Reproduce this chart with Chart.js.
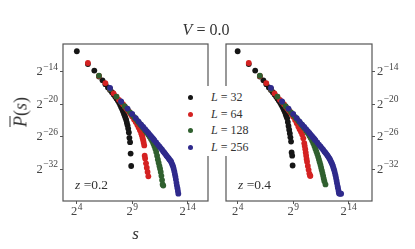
<!DOCTYPE html>
<html>
<head>
<meta charset="utf-8">
<script src="https://cdn.jsdelivr.net/npm/chart.js@4.4.1/dist/chart.umd.min.js"></script>
<style>
  body { margin: 0; background: #fff; }
  #wrap { position: relative; width: 415px; height: 249px; overflow: hidden; font-family: 'Liberation Serif', serif; color: #333; }
  #wrap canvas { position: absolute; top: 0; }
  #title { position: absolute; left: 0; width: 412px; top: 20px; text-align: center; font-size: 16px; line-height: 20px; }
  #ylabel { position: absolute; left: 21px; top: 112px; transform: translate(-50%, -50%) rotate(-90deg); font-size: 18px; white-space: nowrap; }
  #ylabel .bar { text-decoration: overline; }
  #legend { position: absolute; left: 181px; top: 86px; width: 72px; height: 70px; background: #fff; }
  .item { position: absolute; left: 0; height: 17px; font-size: 12px; line-height: 17px; white-space: nowrap; }
  .dot { position: absolute; left: 7px; top: 6px; width: 5px; height: 5px; border-radius: 50%; }
  .lab { position: absolute; left: 30px; top: 0; }
</style>
</head>
<body>
<div id="wrap">
  <canvas id="left" width="212" height="249" style="left:0"></canvas>
  <canvas id="right" width="203" height="249" style="left:212px"></canvas>
  <div id="title"><i>V</i> = 0.0</div>
  <div id="ylabel"><i class="bar">P</i>(<i>s</i>)</div>
  <div id="legend"></div>
</div>
<script>
// exponents: s = 2^x, P(s) = 2^y
const sizes = [32, 64, 128, 256];
const colors = ['#161616', '#d42222', '#30602f', '#2f2a8c'];
const xTicks = [4, 9, 14];
const yTicks = [-14, -20, -26, -32];

// z = 0.2 (left panel)
const xL32a = [4, 5, 5.58, 6, 6.32, 6.58, 6.81, 7, 7.17, 7.32, 7.46, 7.58, 7.70, 7.81, 7.91, 8, 8.09, 8.17, 8.25, 8.32, 8.39, 8.46, 8.52, 8.58, 8.64, 8.70, 8.75, 8.81, 8.86, 8.91];
const yL32a = [-10.24, -12.6, -13.8, -14.9, -15.6, -16.3, -16.9, -17.4, -17.8, -18.2, -18.6, -18.95, -19.3, -19.7, -20.1, -20.5, -20.9, -21.3, -21.7, -22.1, -22.5, -22.9, -23.4, -23.9, -24.5, -25.2, -26.2, -27.0, -29.1, -31.4];
const xL64a = [5, 6, 6.58, 7, 7.32, 7.58, 7.81, 8, 8.17, 8.32, 8.46, 8.58, 8.70, 8.81, 8.91, 9, 9.17, 9.32, 9.46, 9.58, 9.70, 9.81, 9.86, 9.91, 9.95, 10, 10.04, 10.09, 10.13, 10.17, 10.25, 10.32, 10.39, 10.46];
const yL64a = [-12.4, -14.8, -16.1, -17.2, -18.0, -18.6, -19.2, -19.6, -20.0, -20.4, -20.75, -21.05, -21.35, -21.65, -21.95, -22.25, -22.8, -23.3, -23.8, -24.3, -24.8, -25.3, -25.6, -25.9, -26.3, -26.7, -27.1, -27.6, -29.5, -30.0, -30.9, -31.7, -32.5, -33.3];
const xL128a = [6, 7, 7.58, 8, 8.32, 8.58, 8.81, 9, 9.17, 9.32, 9.46, 9.58, 9.70, 9.81, 9.91, 10, 10.17, 10.32, 10.46, 10.58, 10.70, 10.81, 10.91, 11, 11.09, 11.17, 11.25, 11.32, 11.39, 11.46, 11.52, 11.58, 11.64, 11.70, 11.75, 11.81];
const yL128a = [-14.74, -17.2, -18.6, -19.6, -20.35, -20.95, -21.5, -21.95, -22.35, -22.7, -23.05, -23.35, -23.65, -23.9, -24.15, -24.4, -24.85, -25.25, -25.65, -26.0, -26.4, -26.8, -27.25, -27.7, -28.2, -28.8, -29.5, -30.2, -30.8, -31.4, -31.9, -32.5, -33.2, -34.0, -34.8, -35.0];
const xL256a = [7, 8, 8.58, 9, 9.32, 9.58, 9.81, 10, 10.17, 10.32, 10.46, 10.58, 10.70, 10.81, 10.91, 11, 11.17, 11.32, 11.46, 11.58, 11.70, 11.81, 11.91, 12, 12.09, 12.17, 12.25, 12.32, 12.39, 12.46, 12.52, 12.58, 12.64, 12.70, 12.75, 12.81, 12.86, 12.91, 12.95, 13, 13.04, 13.09, 13.13, 13.17];
const yL256a = [-17.0, -19.5, -20.8, -21.8, -22.55, -23.2, -23.75, -24.2, -24.6, -24.95, -25.3, -25.6, -25.9, -26.15, -26.4, -26.65, -27.05, -27.45, -27.8, -28.1, -28.4, -28.7, -28.95, -29.2, -29.45, -29.65, -29.85, -30.05, -30.25, -30.4, -30.6, -30.9, -31.2, -31.5, -31.9, -32.4, -32.9, -33.4, -33.9, -34.5, -35.0, -35.5, -36.0, -36.5];

// z = 0.4 (right panel)
const xL32b = [4, 5, 5.58, 6, 6.32, 6.58, 6.81, 7, 7.17, 7.32, 7.46, 7.58, 7.70, 7.81, 7.91, 8, 8.09, 8.17, 8.25, 8.32, 8.39, 8.46, 8.52, 8.58, 8.64, 8.70, 8.75, 8.81, 8.86, 8.91, 8.95];
const yL32b = [-10.24, -12.6, -13.8, -14.9, -15.6, -16.3, -16.9, -17.4, -17.8, -18.2, -18.6, -18.95, -19.3, -19.65, -20.0, -20.35, -20.7, -21.05, -21.4, -21.8, -22.2, -22.6, -23.3, -24.0, -24.7, -25.4, -26.1, -26.9, -28.9, -29.5, -31.3];
const xL64b = [5, 6, 6.58, 7, 7.32, 7.58, 7.81, 8, 8.17, 8.32, 8.46, 8.58, 8.70, 8.81, 8.91, 9, 9.17, 9.32, 9.46, 9.58, 9.70, 9.81, 9.91, 10, 10.04, 10.09, 10.13, 10.17, 10.21, 10.25, 10.32, 10.39, 10.46, 10.52, 10.55];
const yL64b = [-12.4, -14.8, -16.1, -17.2, -18.0, -18.6, -19.2, -19.6, -20.0, -20.4, -20.75, -21.05, -21.35, -21.65, -21.95, -22.3, -22.9, -23.5, -24.1, -24.6, -25.1, -25.6, -26.3, -27.2, -27.7, -28.3, -28.9, -29.5, -30.1, -30.6, -31.4, -32.1, -32.8, -33.2, -33.2];
const xL128b = [6, 7, 7.58, 8, 8.32, 8.58, 8.81, 9, 9.17, 9.32, 9.46, 9.58, 9.70, 9.81, 9.91, 10, 10.17, 10.32, 10.46, 10.58, 10.70, 10.81, 10.91, 11, 11.09, 11.17, 11.25, 11.32, 11.39, 11.46, 11.52, 11.58, 11.64, 11.70, 11.75, 11.81, 11.91];
const yL128b = [-14.74, -17.2, -18.6, -19.6, -20.35, -20.95, -21.5, -21.95, -22.35, -22.7, -23.05, -23.35, -23.65, -23.9, -24.15, -24.4, -24.9, -25.35, -25.8, -26.25, -26.7, -27.2, -27.7, -28.2, -28.7, -29.2, -29.7, -30.2, -30.7, -31.2, -31.7, -32.2, -32.7, -33.2, -33.7, -34.2, -34.8];
const xL256b = [7, 8, 8.58, 9, 9.32, 9.58, 9.81, 10, 10.17, 10.32, 10.46, 10.58, 10.70, 10.81, 10.91, 11, 11.17, 11.32, 11.46, 11.58, 11.70, 11.81, 11.91, 12, 12.09, 12.17, 12.25, 12.32, 12.39, 12.46, 12.52, 12.58, 12.64, 12.70, 12.75, 12.81, 12.86, 12.91, 12.95, 13, 13.04, 13.09, 13.13, 13.17, 13.25, 13.32];
const yL256b = [-17.0, -19.5, -20.8, -21.8, -22.55, -23.2, -23.75, -24.2, -24.6, -24.95, -25.3, -25.6, -25.9, -26.15, -26.4, -26.65, -27.05, -27.45, -27.8, -28.1, -28.4, -28.7, -28.95, -29.2, -29.45, -29.7, -29.95, -30.2, -30.5, -30.8, -31.1, -31.4, -31.8, -32.2, -32.6, -33.1, -33.6, -34.1, -34.6, -35.1, -35.5, -36.0, -36.4, -36.5, -36.5, -36.5];

function toPoints(xs, ys) {
    return xs.map((x, i) => ({ x: x, y: ys[i] }));
}

// draws "2" with a raised exponent
function drawPow(ctx, exp, x, baseline, align) {
    const base = '2';
    const sup = String(exp).replace('-', '\u2212');
    ctx.font = '12.5px "Liberation Serif"';
    const wb = ctx.measureText(base).width;
    ctx.font = '9.5px "Liberation Serif"';
    const ws = ctx.measureText(sup).width;
    const total = wb + ws + 0.5;
    let left = x;
    if (align === 'center') left = x - total / 2;
    if (align === 'right') left = x - total;
    ctx.textAlign = 'left';
    ctx.textBaseline = 'alphabetic';
    ctx.font = '12.5px "Liberation Serif"';
    ctx.fillText(base, left, baseline);
    ctx.font = '9.5px "Liberation Serif"';
    ctx.fillText(sup, left + wb + 0.5, baseline - 5.5);
}

const powerTicksPlugin = {
    id: 'powerTicks',
    afterDraw(chart) {
        const { ctx } = chart;
        const xs = chart.scales.x;
        const ys = chart.scales.y;
        ctx.save();
        ctx.fillStyle = '#444';
        xTicks.forEach(v => {
            drawPow(ctx, v, xs.getPixelForValue(v), xs.top + 14, 'center');
        });
        yTicks.forEach(v => {
            const py = ys.getPixelForValue(v) + 3.5;
            if (ys.position === 'left') drawPow(ctx, v, ys.right - 5, py, 'right');
            else drawPow(ctx, v, ys.left + 5, py, 'left');
        });
        ctx.restore();
    }
};

// box around each panel
const framePlugin = {
    id: 'frame',
    afterDraw(chart) {
        const { ctx, chartArea: a } = chart;
        ctx.save();
        ctx.strokeStyle = '#555';
        ctx.lineWidth = 1.2;
        ctx.strokeRect(a.left, a.top, a.right - a.left, a.bottom - a.top);
        ctx.restore();
    }
};

// "z =0.2" label in the lower left corner
const zLabelPlugin = {
    id: 'zLabel',
    afterDatasetsDraw(chart, args, opts) {
        const { ctx, chartArea } = chart;
        const x0 = chartArea.left + 12;
        const y0 = chartArea.bottom - 16;
        ctx.save();
        ctx.fillStyle = '#333';
        ctx.textBaseline = 'middle';
        ctx.font = 'italic 13.5px "Liberation Serif"';
        ctx.fillText('z', x0, y0);
        const w = ctx.measureText('z').width;
        ctx.font = '13.5px "Liberation Serif"';
        ctx.fillText(' =' + opts.value, x0 + w, y0);
        ctx.restore();
    }
};

function makeChart(id, xs, ys, zValue, xMin, xMax, yPos) {
    const datasets = sizes.map((L, i) => ({
        label: 'L = ' + L,
        data: toPoints(xs[i], ys[i]),
        backgroundColor: colors[i],
        borderWidth: 0,
        pointRadius: 2.9,
        order: sizes.length - i   // larger L drawn on top
    }));

    return new Chart(document.getElementById(id), {
        type: 'scatter',
        data: { datasets },
        plugins: [framePlugin, zLabelPlugin, powerTicksPlugin],
        options: {
            responsive: false,
            animation: false,
            devicePixelRatio: 1,
            layout: {
                padding: yPos === 'left' ? { top: 44, right: 2, left: 0, bottom: 0 } : { top: 44, right: 0, left: 14, bottom: 0 }
            },
            plugins: {
                legend: { display: false },
                tooltip: { enabled: false },
                zLabel: { value: zValue }
            },
            scales: {
                x: {
                    type: 'linear',
                    min: xMin,
                    max: xMax,
                    afterBuildTicks: (scale) => { scale.ticks = xTicks.map(v => ({ value: v })); },
                    afterFit: (scale) => { scale.height = 48; },
                    grid: { drawOnChartArea: false, drawTicks: true, tickLength: 3, color: '#555' },
                    border: { display: false },
                    ticks: { display: false },
                    title: {
                        display: yPos === 'left',
                        text: 's',
                        font: { family: 'Liberation Serif', size: 17, style: 'italic' },
                        color: '#333',
                        padding: { top: 0, bottom: 4 }
                    }
                },
                y: {
                    type: 'linear',
                    position: yPos,
                    min: -37.85,
                    max: -8.9,
                    afterBuildTicks: (scale) => { scale.ticks = yTicks.map(v => ({ value: v })); },
                    afterFit: (scale) => { scale.width = yPos === 'left' ? 63 : 43; },
                    grid: { drawOnChartArea: false, drawTicks: true, tickLength: 3, color: '#555' },
                    border: { display: false },
                    ticks: { display: false }
                }
            }
        }
    });
}

makeChart('left', [xL32a, xL64a, xL128a, xL256a], [yL32a, yL64a, yL128a, yL256a], '0.2', 2.75, 15.85, 'left');
makeChart('right', [xL32b, xL64b, xL128b, xL256b], [yL32b, yL64b, yL128b, yL256b], '0.4', 2.95, 16.1, 'right');

// shared legend between the panels
const legend = document.getElementById('legend');
sizes.forEach((L, i) => {
    const item = document.createElement('div');
    item.className = 'item';
    item.style.top = (3 + i * 16.7) + 'px';
    item.innerHTML = '<span class="dot" style="background:' + colors[i] + '"></span>' +
        '<span class="lab"><i>L</i> = ' + L + '</span>';
    legend.appendChild(item);
});
</script>
</body>
</html>
